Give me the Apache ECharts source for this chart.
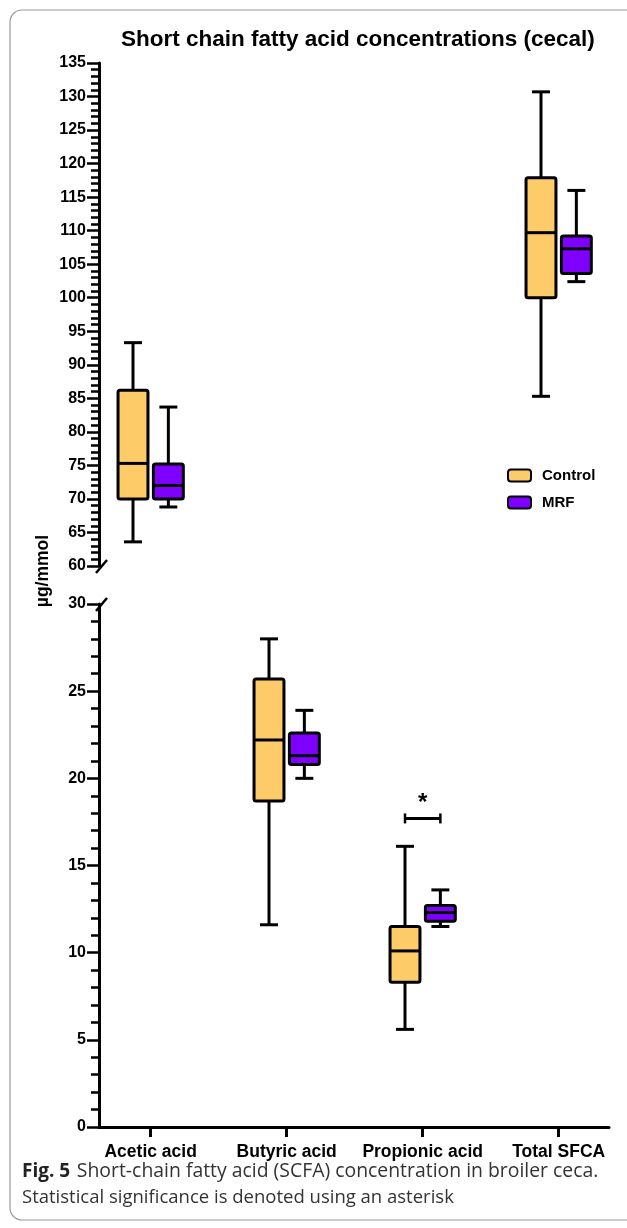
<!DOCTYPE html>
<html>
<head>
<meta charset="utf-8">
<script src="https://cdn.jsdelivr.net/npm/echarts@6/dist/echarts.min.js"></script>
<style>
  html, body { margin: 0; padding: 0; background: #fff; }
  #main { width: 627px; height: 1228px; }
</style>
</head>
<body>
<div id="main"></div>
<script>
// categories on the x axis
var categories = ['Acetic acid', 'Butyric acid', 'Propionic acid', 'Total SFCA'];
// box stats per category: [min, Q1, median, Q3, max]  (µg/mmol)
var controlStats = [
    [63.6, 70.0, 75.3, 86.2, 93.3],
    [11.6, 18.7, 22.2, 25.7, 28.0],
    [5.6, 8.3, 10.1, 11.5, 16.1],
    [85.3, 100.0, 109.7, 117.9, 130.7]
];
var mrfStats = [
    [68.8, 70.0, 72.0, 75.2, 83.7],
    [20.0, 20.8, 21.3, 22.6, 23.9],
    [11.5, 11.8, 12.3, 12.7, 13.6],
    [102.4, 103.6, 107.3, 109.2, 116.0]
];
// which categories sit in the upper (broken) panel and which in the lower one
var topCats = [0, 3];
var bottomCats = [1, 2];
// y ranges of the two panels
var topRange = [60, 135];
var bottomRange = [0, 30];
// significance bracket: [category index, level]
var sigBracket = [2, 17.7];

var xMin = -0.38, xMax = 3.37;
var OFFSET = 0.13;   // group offset from category centre (x units)
var BOX_W = 0.22;    // box width (x units)
var FONT = 'Liberation Sans, Arial, sans-serif';

var myChart = echarts.init(document.getElementById('main'));

function boxData(stats, cats) {
    return cats.map(function (i) { return [i].concat(stats[i]); });
}

function boxRenderer(offset, color) {
    return function (params, api) {
        var x = api.value(0) + offset;
        var lo = api.coord([x, api.value(1)]);
        var q1 = api.coord([x, api.value(2)]);
        var med = api.coord([x, api.value(3)]);
        var q3 = api.coord([x, api.value(4)]);
        var hi = api.coord([x, api.value(5)]);
        var w = api.size([BOX_W, 0])[0];
        var cx = lo[0];
        var cap = w * 0.3;
        var ls = { stroke: '#000', lineWidth: 3 };
        return {
            type: 'group',
            children: [
                { type: 'line', shape: { x1: cx, y1: hi[1], x2: cx, y2: q3[1] }, style: ls },
                { type: 'line', shape: { x1: cx, y1: q1[1], x2: cx, y2: lo[1] }, style: ls },
                { type: 'line', shape: { x1: cx - cap, y1: hi[1], x2: cx + cap, y2: hi[1] }, style: ls },
                { type: 'line', shape: { x1: cx - cap, y1: lo[1], x2: cx + cap, y2: lo[1] }, style: ls },
                {
                    type: 'rect',
                    shape: { x: cx - w / 2, y: q3[1], width: w, height: q1[1] - q3[1], r: 2 },
                    style: { fill: color, stroke: '#000', lineWidth: 3 }
                },
                { type: 'line', shape: { x1: cx - w / 2, y1: med[1], x2: cx + w / 2, y2: med[1] }, style: ls }
            ]
        };
    };
}

function breakRenderer(params, api) {
    var p = api.coord([api.value(0), api.value(1)]);
    return {
        type: 'line',
        shape: { x1: p[0] - 3, y1: p[1] + 7, x2: p[0] + 8, y2: p[1] - 6 },
        style: { stroke: '#000', lineWidth: 2.5 }
    };
}

function sigRenderer(params, api) {
    var c = api.value(0), v = api.value(1);
    var a = api.coord([c - OFFSET, v]);
    var b = api.coord([c + OFFSET, v]);
    var ls = { stroke: '#000', lineWidth: 3 };
    return {
        type: 'group',
        children: [
            { type: 'line', shape: { x1: a[0], y1: a[1], x2: b[0], y2: b[1] }, style: ls },
            { type: 'line', shape: { x1: a[0], y1: a[1] - 5, x2: a[0], y2: a[1] + 5 }, style: { stroke: '#000', lineWidth: 2.5 } },
            { type: 'line', shape: { x1: b[0], y1: b[1] - 5, x2: b[0], y2: b[1] + 5 }, style: { stroke: '#000', lineWidth: 2.5 } },
            {
                type: 'text',
                x: (a[0] + b[0]) / 2, y: a[1] - 3,
                style: { text: '*', fill: '#000', font: 'bold 24px ' + FONT, align: 'center', verticalAlign: 'bottom' }
            }
        ]
    };
}

var controlColor = '#FECB69';
var mrfColor = '#7F00FF';

function yAxisOpt(gridIndex, range) {
    return {
        type: 'value',
        gridIndex: gridIndex,
        min: range[0],
        max: range[1],
        interval: 5,
        axisLine: { show: true, onZero: false, lineStyle: { color: '#000', width: 3 } },
        axisTick: { show: true, length: 12, lineStyle: { color: '#000', width: 2.5 } },
        minorTick: { show: true, splitNumber: 5, length: 8, lineStyle: { color: '#000', width: 2.5 } },
        splitLine: { show: false },
        axisLabel: { color: '#000', fontFamily: FONT, fontWeight: 'bold', fontSize: 16, margin: 13 }
    };
}

var option = {
    animation: false,
    backgroundColor: '#fff',
    title: {
        text: 'Short chain fatty acid concentrations (cecal)',
        left: 116,
        top: 23,
        textStyle: { fontFamily: FONT, fontWeight: 'bold', fontSize: 22.5, color: '#000' }
    },
    legend: {
        orient: 'vertical',
        left: 507,
        top: 468,
        padding: 0,
        itemWidth: 23,
        itemHeight: 12,
        itemGap: 12,
        textStyle: { fontFamily: FONT, fontWeight: 'bold', fontSize: 15, color: '#000', padding: [0, 0, 0, 6] },
        data: [
            { name: 'Control', icon: 'roundRect', itemStyle: { color: controlColor, borderColor: '#000', borderWidth: 2 } },
            { name: 'MRF', icon: 'roundRect', itemStyle: { color: mrfColor, borderColor: '#000', borderWidth: 2 } }
        ]
    },
    grid: [
        { left: 99, right: 18, top: 63, height: 503 },
        { left: 99, right: 18, top: 604, height: 523 }
    ],
    xAxis: [
        { type: 'value', gridIndex: 0, min: xMin, max: xMax, show: false },
        {
            type: 'value',
            gridIndex: 1,
            min: xMin,
            max: xMax,
            splitLine: { show: false },
            axisLine: { show: true, onZero: false, lineStyle: { color: '#000', width: 3 } },
            axisTick: { show: true, length: 10, customValues: [0, 1, 2, 3], lineStyle: { color: '#000', width: 3 } },
            axisLabel: {
                customValues: [0, 1, 2, 3],
                margin: 16,
                color: '#000',
                fontFamily: FONT,
                fontWeight: 'bold',
                fontSize: 17.5,
                formatter: function (v) { return categories[Math.round(v)]; }
            }
        }
    ],
    yAxis: [yAxisOpt(0, topRange), yAxisOpt(1, bottomRange)],
    graphic: [
        {
            type: 'rect',
            shape: { x: 10, y: 10, width: 640, height: 1210, r: 12 },
            style: { fill: 'none', stroke: '#9a9a9a', lineWidth: 1.2 },
            z: -1
        },
        {
            type: 'text',
            x: 43, y: 571,
            rotation: Math.PI / 2,
            style: { text: 'µg/mmol', font: 'bold 17.5px ' + FONT, fill: '#000', align: 'center', verticalAlign: 'middle' }
        },
        {
            type: 'text',
            left: 22, top: 1162,
            style: {
                text: '{b|Fig. 5}  {r1|Short-chain fatty acid (SCFA) concentration in broiler ceca.}\n{r|Statistical significance is denoted using an asterisk}',
                rich: {
                    b: { font: 'bold 19px Open Sans', fill: '#222', lineHeight: 26 },
                    r1: { font: '19.4px Open Sans', fill: '#333', lineHeight: 26 },
                    r: { font: '18.5px Open Sans', fill: '#333', lineHeight: 26 }
                }
            }
        }
    ],
    series: [
        {
            name: 'Control', type: 'custom', xAxisIndex: 0, yAxisIndex: 0,
            itemStyle: { color: controlColor },
            renderItem: boxRenderer(-OFFSET, controlColor),
            data: boxData(controlStats, topCats)
        },
        {
            name: 'MRF', type: 'custom', xAxisIndex: 0, yAxisIndex: 0,
            itemStyle: { color: mrfColor },
            renderItem: boxRenderer(OFFSET, mrfColor),
            data: boxData(mrfStats, topCats)
        },
        {
            name: 'Control', type: 'custom', xAxisIndex: 1, yAxisIndex: 1,
            itemStyle: { color: controlColor },
            renderItem: boxRenderer(-OFFSET, controlColor),
            data: boxData(controlStats, bottomCats)
        },
        {
            name: 'MRF', type: 'custom', xAxisIndex: 1, yAxisIndex: 1,
            itemStyle: { color: mrfColor },
            renderItem: boxRenderer(OFFSET, mrfColor),
            data: boxData(mrfStats, bottomCats)
        },
        {
            name: 'sig', type: 'custom', xAxisIndex: 1, yAxisIndex: 1, silent: true,
            renderItem: sigRenderer,
            data: [sigBracket]
        },
        {
            name: 'breakTop', type: 'custom', xAxisIndex: 0, yAxisIndex: 0, silent: true, clip: false,
            renderItem: breakRenderer,
            data: [[xMin, topRange[0]]]
        },
        {
            name: 'breakBottom', type: 'custom', xAxisIndex: 1, yAxisIndex: 1, silent: true, clip: false,
            renderItem: breakRenderer,
            data: [[xMin, bottomRange[1]]]
        }
    ]
};

myChart.setOption(option);
</script>
</body>
</html>
